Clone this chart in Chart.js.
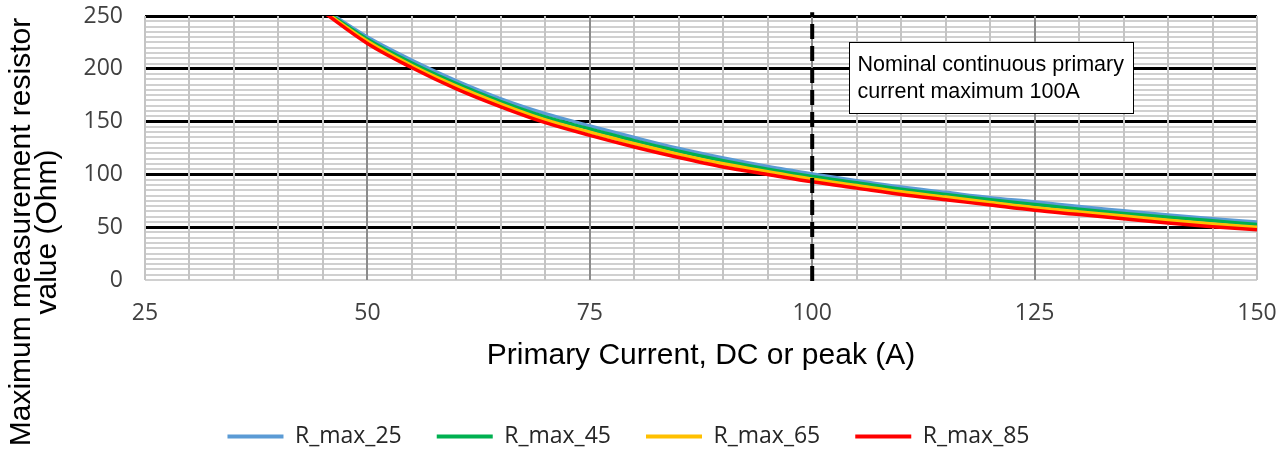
<!DOCTYPE html>
<html>
<head>
<meta charset="utf-8">
<script src="https://cdn.jsdelivr.net/npm/chart.js@4/dist/chart.umd.min.js"></script>
<style>
  html, body { margin: 0; padding: 0; background: #ffffff; }
  #wrap { width: 1288px; height: 453px; }
</style>
</head>
<body>
<div id="wrap"><canvas id="c" width="1288" height="453"></canvas></div>
<script>
// ---- Data ----
const currents = [45, 50, 55, 60, 65, 70, 75, 80, 85, 90, 95, 100, 105, 110, 115, 120, 125, 130, 135, 140, 145, 150];
const rMax25 = [257, 230, 208, 188.5, 171.5, 157.5, 146, 135, 124.5, 115.5, 107.5, 100.5, 94, 88, 83, 78, 74, 69.5, 65.5, 61.5, 58, 55];
const rMax45 = [256, 228, 205.5, 186, 169, 154.5, 143, 132, 122, 113, 105, 98, 92, 86, 81, 76, 71.5, 67, 63, 59.5, 56, 52.5];
const rMax65 = [255, 226, 203, 183.5, 166.5, 151.5, 140, 129, 119, 110, 102.5, 95.5, 89.5, 83.5, 78.5, 73.5, 68.5, 64.5, 60.5, 56.5, 53, 50];
const rMax85 = [254, 224, 201, 181, 164, 149, 137, 126, 116, 107, 100, 93, 87, 81, 76, 71, 66, 62, 58, 54, 50.5, 47.5];
const seriesNames = ['R_max_25', 'R_max_45', 'R_max_65', 'R_max_85'];
const seriesColors = ['#5B9BD5', '#00B050', '#FFC000', '#FF0000'];
const seriesValues = [rMax25, rMax45, rMax65, rMax85];

const nominalX = [100, 100];
const nominalY = [-1, 253.5];
const noteLines = ['Nominal continuous primary', 'current maximum 100A'];
const noteAnchor = [104.1, 225.5]; // (A, Ohm) top-left of the note box

const xTickLabels = [25, 50, 75, 100, 125, 150];
const yTickLabels = [0, 50, 100, 150, 200, 250];
const xTitle = 'Primary Current, DC or peak (A)';
const yTitleLines = ['Maximum measurement resistor', 'value (Ohm)'];

const xMin = 25, xMax = 150, xMinorStep = 5;
const yMin = 0, yMax = 250, yMinorStep = 5;

// ---- Datasets ----
const datasets = seriesValues.map((vals, i) => ({
  label: seriesNames[i],
  data: currents.map((x, j) => ({ x: x, y: vals[j] })),
  borderColor: seriesColors[i],
  backgroundColor: seriesColors[i],
  borderWidth: 3.5,
  pointRadius: 0,
  cubicInterpolationMode: 'monotone',
  order: 10 - i
}));
datasets.push({
  label: 'nominal',
  data: nominalX.map((x, j) => ({ x: x, y: nominalY[j] })),
  borderColor: '#000000',
  borderWidth: 4,
  borderDash: [15, 7],
  pointRadius: 0,
  clip: false,
  order: 0
});

function buildTicks(min, max, step) {
  const t = [];
  for (let v = min; v <= max + 1e-9; v += step) t.push({ value: v });
  return t;
}

const notePlugin = {
  id: 'note',
  afterDatasetsDraw(chart) {
    const ctx = chart.ctx;
    const xs = chart.scales.x, ys = chart.scales.y;
    const left = Math.round(xs.getPixelForValue(noteAnchor[0])) + 0.5;
    const top = Math.round(ys.getPixelForValue(noteAnchor[1])) + 0.5;
    const w = 284, h = 71;
    ctx.save();
    ctx.fillStyle = '#ffffff';
    ctx.fillRect(left, top, w, h);
    ctx.strokeStyle = '#000000';
    ctx.lineWidth = 1;
    ctx.strokeRect(left, top, w, h);
    ctx.fillStyle = '#000000';
    ctx.font = '21.5px "Liberation Sans", Arial, sans-serif';
    ctx.textBaseline = 'alphabetic';
    ctx.textAlign = 'left';
    ctx.fillText(noteLines[0], left + 8, top + 28);
    ctx.fillText(noteLines[1], left + 8, top + 55);
    ctx.restore();
  }
};

const yTitlePlugin = {
  id: 'ytitle',
  afterDraw(chart) {
    const ctx = chart.ctx;
    ctx.save();
    ctx.translate(0, 232);
    ctx.rotate(-Math.PI / 2);
    ctx.fillStyle = '#000000';
    ctx.font = '30px "Liberation Sans", Arial, sans-serif';
    ctx.textAlign = 'center';
    ctx.textBaseline = 'middle';
    ctx.fillText(yTitleLines[0], 0, 22);
    ctx.fillText(yTitleLines[1], 0, 48);
    ctx.restore();
  }
};

const tickFont = { family: '"Open Sans", "Noto Sans", sans-serif', size: 23 };

new Chart(document.getElementById('c'), {
  type: 'line',
  data: { datasets: datasets },
  plugins: [notePlugin, yTitlePlugin],
  options: {
    responsive: false,
    animation: false,
    events: [],
    layout: { padding: { left: 0, right: 31, top: 16, bottom: -5 } },
    plugins: {
      tooltip: { enabled: false },
      legend: {
        display: true,
        position: 'bottom',
        labels: {
          boxWidth: 56,
          boxHeight: 4,
          padding: 35,
          color: '#262626',
          font: { family: '"Open Sans", "Noto Sans", sans-serif', size: 23 },
          generateLabels: () => seriesNames.map((name, i) => ({
            text: name,
            fillStyle: seriesColors[i],
            strokeStyle: seriesColors[i],
            lineWidth: 0,
            hidden: false,
            datasetIndex: i,
            fontColor: '#262626'
          }))
        }
      }
    },
    scales: {
      y: {
        type: 'linear',
        min: yMin,
        max: yMax,
        afterFit(scale) { scale.width = 145; scale.paddingTop = 0; scale.paddingBottom = 0; },
        afterBuildTicks(scale) { scale.ticks = buildTicks(yMin, yMax, yMinorStep); },
        border: { display: false },
        grid: {
          drawTicks: false,
          color: (c) => (c.tick && c.tick.value % 50 === 0 && c.tick.value !== 0) ? '#000000' : '#d0d0d0',
          lineWidth: (c) => (c.tick && c.tick.value % 50 === 0 && c.tick.value !== 0) ? 3 : 2
        },
        ticks: {
          autoSkip: false,
          padding: 22,
          color: '#404040',
          font: tickFont,
          callback: (v) => yTickLabels.includes(v) ? String(v) : ''
        }
      },
      x: {
        type: 'linear',
        min: xMin,
        max: xMax,
        afterFit(scale) { scale.height = 110; scale.paddingLeft = 0; scale.paddingRight = 0; },
        afterBuildTicks(scale) { scale.ticks = buildTicks(xMin, xMax, xMinorStep); },
        border: { display: false },
        grid: {
          drawTicks: false,
          color: (c) => (c.tick && xTickLabels.includes(c.tick.value) && c.tick.value !== xMin && c.tick.value !== xMax) ? '#8c8c8c' : '#c4c4c4',
          lineWidth: 2
        },
        ticks: {
          autoSkip: false,
          maxRotation: 0,
          padding: 20,
          color: '#404040',
          font: tickFont,
          callback: (v) => xTickLabels.includes(v) ? String(v) : ''
        },
        title: {
          display: true,
          text: xTitle,
          color: '#000000',
          font: { family: '"Liberation Sans", Arial, sans-serif', size: 30 },
          padding: { top: 0, bottom: 16 }
        }
      }
    }
  }
});
</script>
</body>
</html>
